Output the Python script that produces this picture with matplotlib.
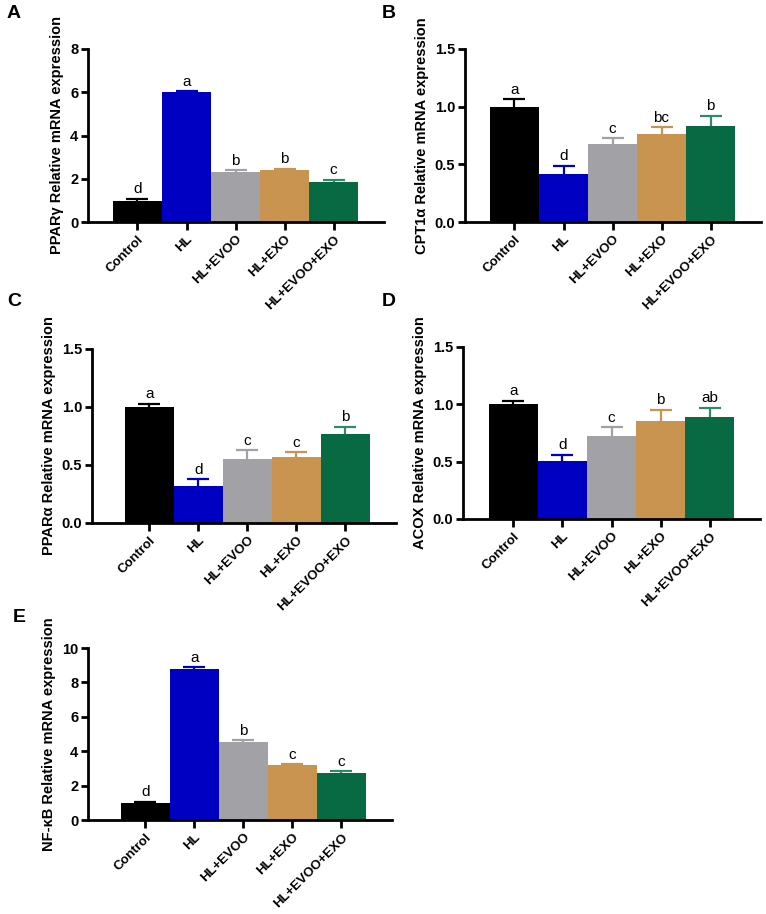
import matplotlib
matplotlib.use("Agg")
import matplotlib.pyplot as plt
import numpy as np

groups = ["Control", "HL", "HL+EVOO", "HL+EXO", "HL+EVOO+EXO"]
bar_colors = ["#000000", "#0000c2", "#a2a2a6", "#c9944f", "#086a42"]
err_colors = ["#000000", "#0000c2", "#a2a2a6", "#c9944f", "#2f8a68"]

ppar_g = [0.97, 5.99, 2.33, 2.40, 1.85]
ppar_g_err = [0.09, 0.05, 0.07, 0.07, 0.09]
ppar_g_sig = ["d", "a", "b", "b", "c"]

cpt1a = [1.00, 0.42, 0.68, 0.76, 0.83]
cpt1a_err = [0.064, 0.066, 0.045, 0.06, 0.09]
cpt1a_sig = ["a", "d", "c", "bc", "b"]

ppar_a = [1.00, 0.315, 0.556, 0.565, 0.767]
ppar_a_err = [0.027, 0.063, 0.072, 0.044, 0.06]
ppar_a_sig = ["a", "d", "c", "c", "b"]

acox = [1.00, 0.507, 0.727, 0.857, 0.886]
acox_err = [0.03, 0.052, 0.073, 0.096, 0.085]
acox_sig = ["a", "d", "c", "b", "ab"]

nfkb = [0.97, 8.76, 4.52, 3.19, 2.73]
nfkb_err = [0.09, 0.11, 0.11, 0.05, 0.11]
nfkb_sig = ["d", "a", "b", "c", "c"]

plt.rcParams["font.family"] = ["Liberation Sans", "DejaVu Sans"]

W, H = 766, 914
fig = plt.figure(figsize=(W / 100, H / 100), dpi=100)

# panel layout in pixels: left, right, top, bottom, xlim-left
panels = [
    ("A", (88, 384, 49, 222, -1.01), ppar_g, ppar_g_err, ppar_g_sig,
     "PPARγ Relative mRNA expression", (0, 8), [0, 2, 4, 6, 8], "%d", (14, 14)),
    ("B", (465, 761, 49, 222, -1.01), cpt1a, cpt1a_err, cpt1a_sig,
     "CPT1α Relative mRNA expression", (0, 1.5), [0, 0.5, 1.0, 1.5], "%.1f", (389, 14)),
    ("C", (92, 396, 349, 523, -1.17), ppar_a, ppar_a_err, ppar_a_sig,
     "PPARα Relative mRNA expression", (0, 1.5), [0, 0.5, 1.0, 1.5], "%.1f", (14, 302)),
    ("D", (463, 760, 347, 519, -1.03), acox, acox_err, acox_sig,
     "ACOX Relative mRNA expression", (0, 1.5), [0, 0.5, 1.0, 1.5], "%.1f", (389, 302)),
    ("E", (88, 392, 648, 820, -1.17), nfkb, nfkb_err, nfkb_sig,
     "NF-κB Relative mRNA expression", (0, 10), [0, 2, 4, 6, 8, 10], "%d", (19, 618)),
]

x = np.arange(len(groups))
for (tag, box, vals, errs, sig, ylabel, ylim, yticks, fmt, lab) in panels:
    l, r, t, b, xl = box
    ax = fig.add_axes([l / W, 1 - b / H, (r - l) / W, (b - t) / H])
    ax.bar(x, vals, width=1.0, color=bar_colors, zorder=2)
    span = ylim[1] - ylim[0]
    for i in range(len(groups)):
        eb = ax.errorbar(x[i], vals[i], yerr=[[0], [errs[i]]], color=err_colors[i],
                         capsize=8, elinewidth=1.6, capthick=1.6, zorder=1)
        # only the upper cap is shown (one-sided error bar)
        for cap in eb[1]:
            if cap.get_ydata()[0] <= vals[i]:
                cap.set_visible(False)
        ax.text(x[i], vals[i] + errs[i] + span * 0.015, sig[i], ha="center",
                va="bottom", fontsize=11)
    ax.set_xlim(xl, 5.03)
    ax.set_ylim(*ylim)
    ax.set_yticks(yticks)
    ax.set_yticklabels([fmt % v for v in yticks], fontweight="bold", fontsize=10.5)
    ax.set_xticks(x)
    ax.set_xticklabels(groups, rotation=45, ha="right", rotation_mode="anchor",
                       fontweight="bold", fontsize=9.5)
    ax.set_ylabel(ylabel, fontweight="bold", fontsize=10.5, labelpad=4)
    for s in ["top", "right"]:
        ax.spines[s].set_visible(False)
    for s in ["left", "bottom"]:
        ax.spines[s].set_linewidth(2)
    ax.tick_params(axis="x", length=6, width=2, pad=2)
    ax.tick_params(axis="y", length=5, width=2, pad=2)
    fig.text(lab[0] / W, 1 - lab[1] / H, tag, ha="center", va="center",
             fontsize=14, fontweight="bold")

fig.savefig("out.png", dpi=100)
